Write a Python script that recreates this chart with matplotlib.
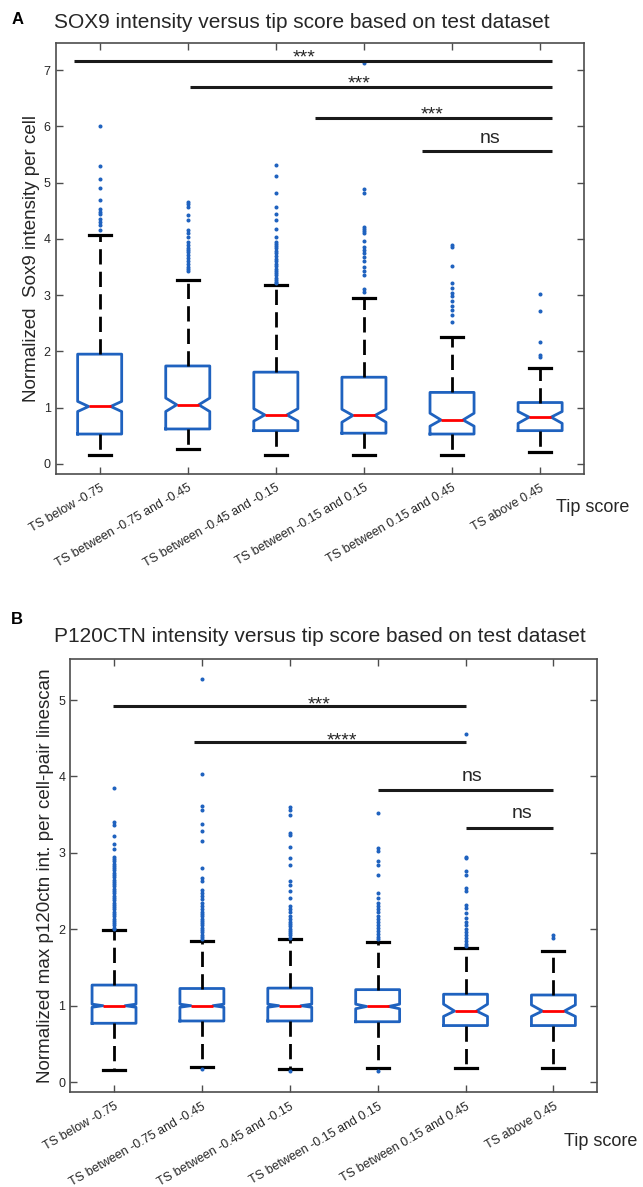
import matplotlib
matplotlib.use('Agg')
import matplotlib.pyplot as plt

plt.rcParams['font.family'] = ['Liberation Sans', 'DejaVu Sans']

categories = ['TS below -0.75', 'TS between -0.75 and -0.45', 'TS between -0.45 and -0.15',
              'TS between -0.15 and 0.15', 'TS between 0.15 and 0.45', 'TS above 0.45']

# panel A - SOX9
a_med = [1.02, 1.05, 0.87, 0.86, 0.78, 0.83]
a_q1 = [0.53, 0.62, 0.59, 0.545, 0.53, 0.59]
a_q3 = [1.95, 1.74, 1.63, 1.54, 1.27, 1.09]
a_lo = [0.16, 0.26, 0.16, 0.16, 0.16, 0.21]
a_hi = [4.06, 3.27, 3.18, 2.94, 2.25, 1.70]
a_cilo = [0.93, 0.93, 0.76, 0.74, 0.67, 0.72]
a_cihi = [1.11, 1.17, 0.98, 0.97, 0.90, 0.93]
a_fliers = [
    [6.0, 5.29, 5.06, 4.91, 4.69, 4.53, 4.48, 4.45, 4.36, 4.3, 4.25, 4.16],
    [4.66, 4.62, 4.57, 4.43, 4.33, 4.16, 4.1, 4.03, 3.95, 3.89, 3.84, 3.8, 3.76, 3.72,
     3.66, 3.6, 3.55, 3.5, 3.46, 3.42],
    [5.31, 5.11, 4.81, 4.56, 4.45, 4.33, 4.18, 4.03, 3.95, 3.91, 3.87, 3.83, 3.79, 3.74,
     3.7, 3.65, 3.6, 3.56, 3.52, 3.47, 3.43, 3.39, 3.35, 3.31, 3.27, 3.24, 3.21],
    [7.13, 4.88, 4.82, 4.21, 4.18, 4.14, 4.1, 3.97, 3.85, 3.8, 3.74, 3.68, 3.6, 3.5,
     3.42, 3.36, 3.1, 3.05],
    [3.89, 3.86, 3.52, 3.21, 3.12, 3.03, 2.98, 2.89, 2.8, 2.74, 2.65, 2.53],
    [3.02, 2.71, 2.16, 1.93, 1.9],
]
a_sig_x0 = [0.71, 2.03, 3.44, 4.66]
a_sig_x1 = [6.13, 6.13, 6.13, 6.13]
a_sig_y = [7.16, 6.70, 6.15, 5.56]
a_sig_txt = ['***', '***', '***', 'ns']
a_sig_tx = [3.32, 3.95, 4.77, 5.43]

# panel B - P120CTN
b_med = [1.0, 1.0, 1.0, 0.99, 0.93, 0.93]
b_q1 = [0.77, 0.80, 0.80, 0.79, 0.74, 0.74]
b_q3 = [1.27, 1.225, 1.23, 1.21, 1.15, 1.14]
b_lo = [0.157, 0.196, 0.17, 0.18, 0.19, 0.18]
b_hi = [1.99, 1.845, 1.87, 1.84, 1.75, 1.71]
b_cilo = [0.98, 0.98, 0.98, 0.96, 0.86, 0.86]
b_cihi = [1.02, 1.02, 1.02, 1.02, 1.02, 1.01]
b_fliers = [
    [3.85, 3.4, 3.36, 3.22, 3.11, 3.05, 2.95, 2.92, 2.89, 2.86, 2.83, 2.8, 2.77, 2.74,
     2.71, 2.68, 2.65, 2.62, 2.59, 2.56, 2.53, 2.5, 2.47, 2.44, 2.41, 2.38, 2.35, 2.32,
     2.29, 2.26, 2.23, 2.2, 2.17, 2.14, 2.11, 2.08, 2.05, 2.02, 2.0],
    [5.27, 4.03, 3.61, 3.56, 3.38, 3.29, 3.15, 2.8, 2.67, 2.63, 2.52, 2.47, 2.43, 2.39,
     2.35, 2.31, 2.27, 2.23, 2.2, 2.17, 2.14, 2.11, 2.08, 2.05, 2.02, 1.99, 1.96, 1.93,
     1.9, 1.87, 0.17],
    [3.6, 3.56, 3.5, 3.26, 3.24, 3.08, 2.93, 2.84, 2.63, 2.58, 2.5, 2.41, 2.3, 2.26,
     2.22, 2.18, 2.14, 2.1, 2.07, 2.04, 2.01, 1.98, 1.95, 1.92, 1.89, 0.14],
    [3.52, 3.06, 3.03, 2.89, 2.84, 2.71, 2.47, 2.41, 2.34, 2.3, 2.26, 2.22, 2.18, 2.14,
     2.1, 2.06, 2.02, 1.98, 1.94, 1.9, 1.87, 0.14],
    [4.55, 2.95, 2.93, 2.76, 2.71, 2.54, 2.5, 2.32, 2.28, 2.21, 2.15, 2.1, 2.06, 2.0,
     1.96, 1.92, 1.88, 1.85, 1.81, 1.78],
    [1.93, 1.88],
]
b_sig_x0 = [0.99, 1.91, 4.0, 5.0]
b_sig_x1 = [5.01, 5.0, 6.0, 6.0]
b_sig_y = [4.92, 4.45, 3.82, 3.33]
b_sig_txt = ['***', '****', 'ns', 'ns']
b_sig_tx = [3.33, 3.59, 5.07, 5.64]

blue = '#1f62bf'
axcol = '#4d4d4d'
txtcol = '#262626'


def drawPanel(ax, med, q1, q3, lo, hi, cilo, cihi, fliers, ylim, yticks,
              sx0, sx1, sy, stxt, stx):
    stats = []
    for i in range(len(med)):
        stats.append({'med': med[i], 'q1': q1[i], 'q3': q3[i], 'whislo': lo[i],
                      'whishi': hi[i], 'cilo': cilo[i], 'cihi': cihi[i],
                      'fliers': fliers[i]})
    pos = list(range(1, len(med) + 1))
    ax.bxp(stats, positions=pos, widths=0.5, capwidths=0.25, shownotches=True,
           boxprops=dict(color=blue, linewidth=2.0),
           medianprops=dict(color='red', linewidth=2.0),
           whiskerprops=dict(color='black', linewidth=2.0, linestyle=(0, (5.5, 2.6))),
           capprops=dict(color='black', linewidth=2.3),
           flierprops=dict(marker='o', markersize=1.9, markerfacecolor=blue,
                           markeredgecolor=blue, linestyle='none'))
    for i in range(len(sx0)):
        ax.plot([sx0[i], sx1[i]], [sy[i], sy[i]], color='#1a1a1a', linewidth=2.2,
                solid_capstyle='butt')
        if stxt[i] == 'ns':
            ax.text(stx[i], sy[i] + 0.07, stxt[i], ha='center', va='bottom',
                    fontsize=14, color=txtcol)
        else:
            ax.text(stx[i], sy[i] - 0.1, stxt[i], ha='center', va='bottom',
                    fontsize=14, color=txtcol)
    ax.set_xlim(0.5, 6.5)
    ax.set_ylim(*ylim)
    ax.set_yticks(yticks)
    ax.set_xticks(pos)
    ax.set_xticklabels(categories, rotation=30, ha='right', va='top',
                       rotation_mode='anchor', fontsize=9, color=txtcol)
    ax.tick_params(axis='both', direction='in', length=5, width=1, colors=axcol,
                   top=True, right=True, labelcolor=txtcol, labelsize=9)
    ax.tick_params(axis='x', pad=6)
    for s in ax.spines.values():
        s.set_color(axcol)
        s.set_linewidth(1.2)


fig = plt.figure(figsize=(6.43, 11.87), dpi=100)

axA = fig.add_axes([0.0865, 0.6007, 0.822, 0.363])
drawPanel(axA, a_med, a_q1, a_q3, a_lo, a_hi, a_cilo, a_cihi, a_fliers,
          (-0.18, 7.48), range(0, 8), a_sig_x0, a_sig_x1, a_sig_y, a_sig_txt, a_sig_tx)
axA.set_ylabel('Normalized  Sox9 intensity per cell', fontsize=13.5, color=txtcol,
               labelpad=3)

axB = fig.add_axes([0.109, 0.080, 0.820, 0.365])
drawPanel(axB, b_med, b_q1, b_q3, b_lo, b_hi, b_cilo, b_cihi, b_fliers,
          (-0.13, 5.54), range(0, 6), b_sig_x0, b_sig_x1, b_sig_y, b_sig_txt, b_sig_tx)
axB.set_ylabel('Normalized max p120ctn int. per cell-pair linescan', fontsize=13.5,
               color=txtcol, labelpad=3)

fig.text(302 / 643, 1 - 22 / 1187, 'SOX9 intensity versus tip score based on test dataset',
         ha='center', va='center', fontsize=15, color=txtcol)
fig.text(320 / 643, 1 - 637 / 1187, 'P120CTN intensity versus tip score based on test dataset',
         ha='center', va='center', fontsize=15, color=txtcol)
fig.text(18 / 643, 1 - 20 / 1187, 'A', ha='center', va='center', fontsize=12,
         fontweight='bold')
fig.text(17 / 643, 1 - 620 / 1187, 'B', ha='center', va='center', fontsize=12,
         fontweight='bold')
fig.text(556 / 643, 1 - 507 / 1187, 'Tip score', ha='left', va='center', fontsize=13,
         color=txtcol)
fig.text(564 / 643, 1 - 1142 / 1187, 'Tip score', ha='left', va='center', fontsize=13,
         color=txtcol)

fig.savefig('out.png', dpi=100)
